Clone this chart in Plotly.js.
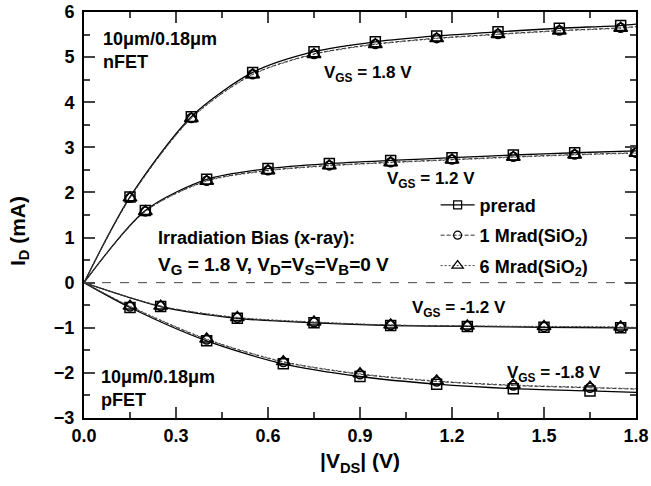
<!DOCTYPE html>
<html><head><meta charset="utf-8">
<script src="https://cdn.plot.ly/plotly-3.0.1.min.js"></script>
<style>body{margin:0;background:#fff}#chart{width:651px;height:486px}</style>
</head><body><div id="chart"></div>
<script>
// ---- data ----
// nFET, VGS = 1.8 V
const xN18 = [0.15, 0.35, 0.55, 0.75, 0.95, 1.15, 1.35, 1.55, 1.75];
const yN18pre = [1.90, 3.68, 4.66, 5.12, 5.34, 5.47, 5.56, 5.64, 5.70];
const yN18m1  = [1.88, 3.65, 4.62, 5.07, 5.29, 5.42, 5.51, 5.59, 5.65];
const yN18m6  = [1.88, 3.64, 4.61, 5.06, 5.28, 5.41, 5.50, 5.58, 5.64];
const endN18 = [5.73, 5.68, 5.67];
// nFET, VGS = 1.2 V
const xN12 = [0.2, 0.4, 0.6, 0.8, 1.0, 1.2, 1.4, 1.6, 1.8];
const yN12pre = [1.60, 2.29, 2.53, 2.64, 2.71, 2.77, 2.83, 2.88, 2.92];
const yN12m1  = [1.58, 2.26, 2.49, 2.60, 2.67, 2.73, 2.79, 2.84, 2.88];
const yN12m6  = [1.58, 2.25, 2.48, 2.59, 2.66, 2.72, 2.78, 2.83, 2.87];
// pFET, VGS = -1.2 V
const xP12 = [0.25, 0.5, 0.75, 1.0, 1.25, 1.5, 1.75];
const yP12pre = [-0.53, -0.79, -0.89, -0.95, -0.97, -0.99, -1.00];
const yP12m1  = [-0.52, -0.78, -0.88, -0.94, -0.96, -0.98, -0.99];
const yP12m6  = [-0.52, -0.77, -0.87, -0.94, -0.96, -0.97, -0.98];
const endP12 = [-1.01, -1.00, -0.99];
// pFET, VGS = -1.8 V
const xP18 = [0.15, 0.4, 0.65, 0.9, 1.15, 1.4, 1.65];
const yP18pre = [-0.55, -1.29, -1.80, -2.08, -2.25, -2.35, -2.40];
const yP18m1  = [-0.53, -1.26, -1.76, -2.03, -2.19, -2.28, -2.33];
const yP18m6  = [-0.52, -1.25, -1.75, -2.02, -2.18, -2.27, -2.32];
const endP18 = [-2.43, -2.36, -2.35];
const xEnd = 1.8;

const seriesNames = ['prerad', '1 Mrad(SiO<sub>2</sub>)', '6 Mrad(SiO<sub>2</sub>)'];
const xTicks = [0, 0.3, 0.6, 0.9, 1.2, 1.5, 1.8];
const xTickText = ['0.0', '0.3', '0.6', '0.9', '1.2', '1.5', '1.8'];
const yTicks = [-3, -2, -1, 0, 1, 2, 3, 4, 5, 6];

// ---- styles ----
const styles = [
  {dash: 'solid', width: 1.3, color: '#000', symbol: 'square-open', size: 10, lsize: 8},
  {dash: '4px,2px', width: 1, color: '#333', symbol: 'circle-open', size: 9, lsize: 8},
  {dash: '2px,2px', width: 1, color: '#444', symbol: 'triangle-up-open', size: 12, lsize: 10}
];

const curves = [
  {x: xN18, ys: [yN18pre, yN18m1, yN18m6], ends: endN18},
  {x: xN12, ys: [yN12pre, yN12m1, yN12m6], ends: null},
  {x: xP12, ys: [yP12pre, yP12m1, yP12m6], ends: endP12},
  {x: xP18, ys: [yP18pre, yP18m1, yP18m6], ends: endP18}
];

const traces = [];
for (let s = 0; s < 3; s++) {
  const st = styles[s];
  curves.forEach(c => {
    let lx = [0].concat(c.x), ly = [0].concat(c.ys[s]);
    if (c.ends) { lx.push(xEnd); ly.push(c.ends[s]); }
    traces.push({x: lx, y: ly, mode: 'lines', type: 'scatter', showlegend: false,
      line: {shape: 'spline', smoothing: 0.8, dash: st.dash, width: st.width, color: st.color}, hoverinfo: 'skip'});
  });
}
for (let s = 0; s < 3; s++) {
  const st = styles[s];
  curves.forEach(c => {
    traces.push({x: c.x, y: c.ys[s], mode: 'markers', type: 'scatter', showlegend: false,
      marker: {symbol: st.symbol, size: st.size, color: '#000', line: {width: 1.5, color: '#000'}}});
  });
}
for (let s = 0; s < 3; s++) {
  const st = styles[s];
  traces.push({x: [null], y: [null], mode: 'lines+markers', type: 'scatter', name: seriesNames[s],
    legendgroup: 'g' + s,
    line: {dash: st.dash, width: st.width, color: st.color},
    marker: {symbol: st.symbol, size: st.lsize, color: '#000', line: {width: 1.2, color: '#000'}}});
}

const F = 'Liberation Sans, Arial, sans-serif';
const ann = (x, y, text, size) => ({x: x, y: y, xref: 'x', yref: 'y', text: text, showarrow: false,
  xanchor: 'left', yanchor: 'middle', align: 'left', font: {family: F, size: size || 18, color: '#000', weight: 'bold'}});
const sb = t => '<sub><span style="font-size:15px">' + t + '</span></sub>';

const layout = {
  width: 651, height: 486,
  margin: {l: 84, r: 15, t: 12, b: 68},
  paper_bgcolor: '#fff', plot_bgcolor: '#fff',
  font: {family: F, color: '#000', weight: 'bold'},
  xaxis: {range: [0, 1.8], tickvals: xTicks, ticktext: xTickText, ticks: 'inside', ticklen: 11, tickwidth: 2,
    minor: {dtick: 0.15, ticklen: 6, tickwidth: 2, ticks: 'inside'},
    showline: true, linewidth: 2, linecolor: '#000', mirror: 'allticks', showgrid: false, zeroline: false,
    tickfont: {family: F, size: 18, weight: 'bold'},
    title: {text: '|V<sub>DS</sub>| (V)', font: {family: F, size: 21, weight: 'bold'}, standoff: 9}},
  yaxis: {range: [-3, 6], tickvals: yTicks, ticks: 'inside', ticklen: 11, tickwidth: 2,
    minor: {dtick: 0.5, ticklen: 6, tickwidth: 2, ticks: 'inside'},
    showline: true, linewidth: 2, linecolor: '#000', mirror: 'allticks', showgrid: false, zeroline: false,
    tickfont: {family: F, size: 18, weight: 'bold'}, ticklabelstandoff: 4},
  shapes: [{type: 'line', xref: 'x', yref: 'y', x0: 0, x1: 1.8, y0: 0, y1: 0, line: {dash: 'dash', width: 1, color: '#444'}}],
  legend: {x: 0.637, y: 0.57, xanchor: 'left', yanchor: 'top', bgcolor: 'rgba(0,0,0,0)',
    font: {family: F, size: 18, weight: 'bold'}, itemwidth: 34, tracegroupgap: 4},
  annotations: [
    {x: -0.118, y: 0.46, xref: 'paper', yref: 'paper', text: 'I<sub>D</sub> (mA)', textangle: -90, showarrow: false,
     xanchor: 'center', yanchor: 'middle', font: {family: F, size: 21, color: '#000', weight: 'bold'}},
    ann(0.055, 5.15, '10\u03bcm/0.18\u03bcm<br>nFET'),
    ann(0.775, 4.62, 'V<sub>GS</sub> = 1.8 V', 17),
    ann(0.98, 2.27, 'V<sub>GS</sub> = 1.2 V', 17),
    ann(0.235, 1.0, 'Irradiation Bias (x-ray):'),
    ann(0.235, 0.38, 'V' + sb('G') + ' = 1.8 V, V' + sb('D') + '=V' + sb('S') + '=V' + sb('B') + '=0 V', 19),
    ann(1.062, -0.58, 'V<sub>GS</sub> = -1.2 V', 17),
    ann(1.372, -2.02, 'V<sub>GS</sub> = -1.8 V', 17),
    ann(0.05, -2.35, '10\u03bcm/0.18\u03bcm<br>pFET')
  ]
};
Plotly.newPlot('chart', traces, layout, {displayModeBar: false, staticPlot: true});
</script></body></html>
